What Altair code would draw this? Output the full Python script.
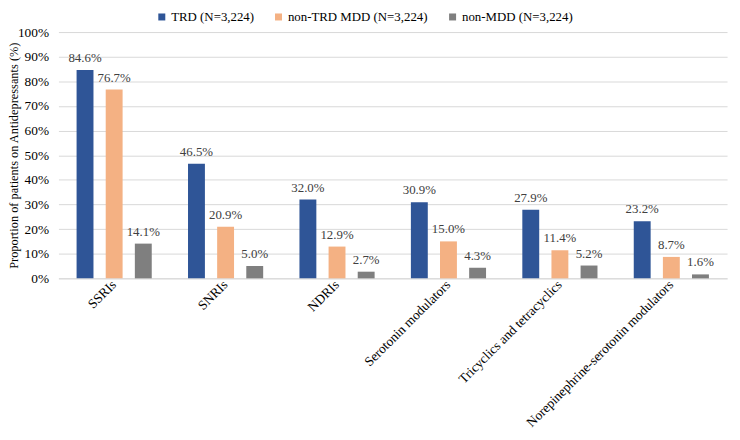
import altair as alt
import pandas as pd

categories = ["SSRIs", "SNRIs", "NDRIs", "Serotonin modulators",
              "Tricyclics and tetracyclics", "Norepinephrine-serotonin modulators"]
series = ["TRD (N=3,224)", "non-TRD MDD (N=3,224)", "non-MDD (N=3,224)"]
trd = [84.6, 46.5, 32.0, 30.9, 27.9, 23.2]
non_trd = [76.7, 20.9, 12.9, 15.0, 11.4, 8.7]
non_mdd = [14.1, 5.0, 2.7, 4.3, 5.2, 1.6]
y_ticks = [0, 0.1, 0.2, 0.3, 0.4, 0.5, 0.6, 0.7, 0.8, 0.9, 1.0]
colors = ["#2F5597", "#F4B183", "#7F7F7F"]

rows = []
for s, vals in zip(series, [trd, non_trd, non_mdd]):
    for c, v in zip(categories, vals):
        rows.append({"cat": c, "series": s, "value": v / 100.0,
                     "label": f"{v:.1f}%"})
df = pd.DataFrame(rows)

FONT = "Liberation Serif"

x = alt.X("cat:N", sort=categories, title=None,
          scale=alt.Scale(paddingInner=0.2, paddingOuter=0.1),
          axis=alt.Axis(labelAngle=-45, labelAlign="right", labelBaseline="middle",
                        labelFontSize=13.5, labelFont=FONT, labelColor="#000000",
                        ticks=False, domain=True, domainColor="#D9D9D9",
                        labelPadding=4, labelLimit=400, labelOverlap=False))
xo = alt.XOffset("series:N", sort=series,
                 scale=alt.Scale(paddingInner=0.42, paddingOuter=0.24))

y = alt.Y("value:Q", title="Proportion of patients on Antidepressants (%)",
          scale=alt.Scale(domain=[0, 1]),
          axis=alt.Axis(format=".0%", values=y_ticks, tickCount=11,
                        labelFontSize=13.5, labelFont=FONT, labelColor="#000000",
                        titleFont=FONT, titleFontSize=12.5, titleFontWeight="normal",
                        titleColor="#000000", titleBaseline="alphabetic", titleX=-41,
                        ticks=False, domain=False,
                        gridColor="#D9D9D9", labelPadding=10,
                        labelOverlap=False))

bars = alt.Chart(df).mark_bar().encode(
    x=x, xOffset=xo, y=y,
    color=alt.Color("series:N", sort=series,
                    scale=alt.Scale(domain=series, range=colors),
                    legend=alt.Legend(title=None, orient="none", direction="horizontal",
                                      legendX=98, legendY=-22, symbolType="square",
                                      symbolSize=50, labelFont=FONT, labelFontSize=13,
                                      labelColor="#000000", columnPadding=18,
                                      labelOffset=3, symbolStrokeWidth=0)),
)

text = alt.Chart(df).mark_text(baseline="bottom", dy=-5, font=FONT, fontSize=13,
                               color="#404040").encode(
    x=x, xOffset=xo, y=y, text="label:N")

chart = (bars + text).properties(
    width=676, height=249,
    autosize=alt.AutoSizeParams(type="none"),
    padding={"left": 51, "top": 22, "right": 5, "bottom": 150},
).configure_view(stroke=None)

chart.save("out.html", embed_options={"renderer": "svg", "actions": False})
